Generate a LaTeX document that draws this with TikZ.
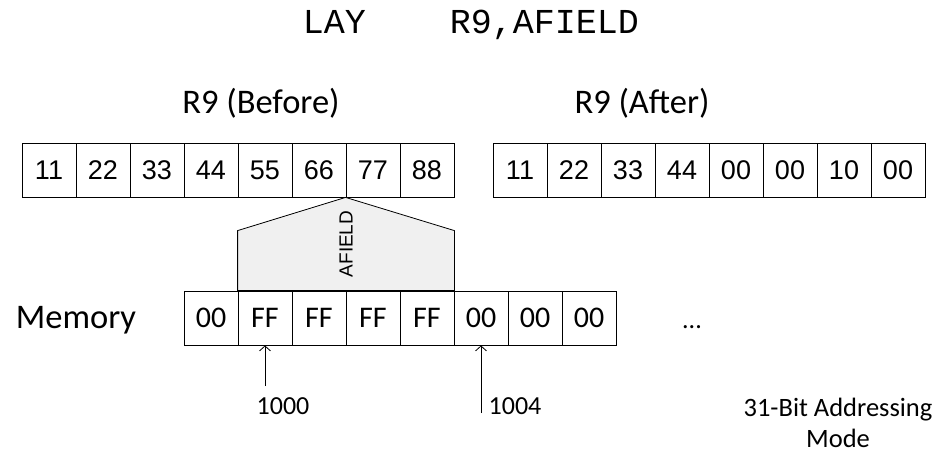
\documentclass[tikz,border=0pt]{standalone}
\usepackage{fontspec}
\setmainfont{Carlito}
\newfontfamily\arialf{Liberation Sans}
\newfontfamily\monof{Liberation Mono}
\usetikzlibrary{arrows.meta}
\definecolor{afill}{HTML}{F0F0F0}
\begin{document}
\begin{tikzpicture}[x=1pt,y=-1pt,
  regcell/.style={draw, line width=0.8pt, minimum width=54pt, minimum height=54pt, inner sep=0pt, text height=19.3pt, text depth=0pt, font=\arialf\fontsize{27}{30}\selectfont},
  memcell/.style={draw, line width=0.8pt, minimum width=54pt, minimum height=54pt, inner sep=0pt, text height=19pt, text depth=0pt, font=\fontsize{30}{32}\selectfont},
  lbl/.style={inner sep=0pt, font=\fontsize{34.5}{40}\selectfont},
  addr/.style={inner sep=0pt, font=\fontsize{26}{30}\selectfont},
  ptr/.style={line width=0.8pt, -{Straight Barb[length=5pt,width=11pt]}}]
\useasboundingbox (0,0) rectangle (935,453);
\node[inner sep=0pt, font=\monof\fontsize{35}{40}\selectfont, anchor=base] (title) at (471,33) {LAY\ \ \ \ R9,AFIELD};
\node[lbl, anchor=base] (before) at (261,113) {R9 (Before)};
\node[lbl, anchor=base] (after) at (642,113) {R9 (After)};
\foreach \val [count=\i] in {11,22,33,44,55,66,77,88}
  \node[regcell] (b\i) at ({22+54*(\i-0.5)},170) {\val};
\foreach \val [count=\i] in {11,22,33,44,00,00,10,00}
  \node[regcell] (r\i) at ({493+54*(\i-0.5)},170) {\val};
\foreach \val [count=\i] in {00,FF,FF,FF,FF,00,00,00}
  \node[memcell] (m\i) at ({184+54*(\i-0.5)},318) {\val};
\draw[fill=afill, line width=0.8pt] (b7.south west) -- ([yshift=60pt]m5.north east) -- (m5.north east) -- (m2.north west) -- ([yshift=60pt]m2.north west) -- cycle;
\node[rotate=90, inner sep=0pt, font=\arialf\fontsize{19}{22}\selectfont] (af) at (346,244) {AFIELD};
\node[lbl, anchor=base] (mem) at (76,328) {Memory};
\node[addr, anchor=base] (dots) at (692,328) {...};
\coordinate (p1) at (265,386);
\coordinate (p2) at (481,413);
\draw[ptr] (p1) -- (m2.south);
\draw[ptr] (p2) -- (m6.south);
\node[addr, anchor=base] (a1) at (283,414) {1000};
\node[addr, anchor=base] (a2) at (515,414) {1004};
\node[align=center, inner sep=0pt, anchor=north, font=\fontsize{26.5}{31}\selectfont] (mode) at (838,398) {31-Bit Addressing\\Mode};
\end{tikzpicture}
\end{document}
